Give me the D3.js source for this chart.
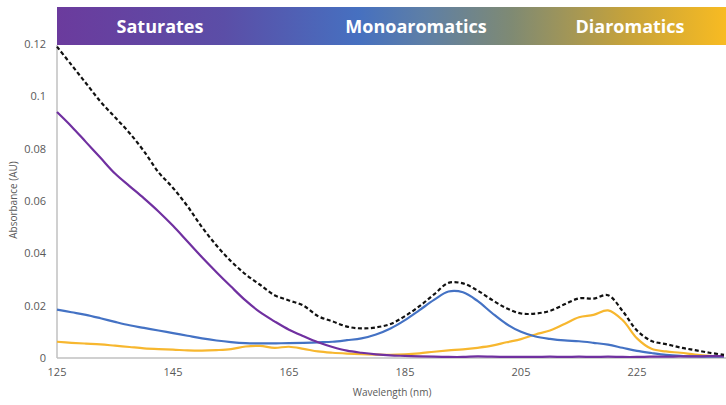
<!DOCTYPE html>
<html>
<head>
<meta charset="utf-8">
<script src="https://cdn.jsdelivr.net/npm/d3@7"></script>
<style>
  body { margin: 0; background: #fff; }
  svg { display: block; font-family: "Open Sans", sans-serif; }
</style>
</head>
<body>
<svg id="chart" width="726" height="405"></svg>
<script>
// wavelength grid (nm)
var wavelengths = [125, 127.5, 130, 132.5, 135, 137.5, 140, 142.5, 145, 147.5, 150, 152.5, 155, 157.5,
  160, 162.5, 165, 167.5, 170, 172.5, 175, 177.5, 180, 182.5, 185, 187.5, 190, 192.5, 195, 197.5,
  200, 202.5, 205, 207.5, 210, 212.5, 215, 217.5, 220, 222.5, 225, 227.5, 230, 232.5, 235, 237.5, 240]

var saturates = [0.094, 0.0885, 0.0825, 0.0765, 0.0705, 0.0657, 0.061, 0.056, 0.0505, 0.0445, 0.0385, 0.0328, 0.0273, 0.022,
  0.0175, 0.014, 0.0108, 0.0083, 0.006, 0.0042, 0.0028, 0.002, 0.0014, 0.001, 0.0008, 0.0006, 0.0005, 0.0004, 0.0004, 0.0006,
  0.0005, 0.0004, 0.0004, 0.0004, 0.0005, 0.0004, 0.0005, 0.0004, 0.0005, 0.0004, 0.0004, 0.0005, 0.0005, 0.0006, 0.0006, 0.0007, 0.0007]

var monoaromatics = [0.0185, 0.0175, 0.0165, 0.0152, 0.0138, 0.0125, 0.0115, 0.0105, 0.0095, 0.0085, 0.0075, 0.0067, 0.0061, 0.0057,
  0.0056, 0.0056, 0.0057, 0.0058, 0.006, 0.0062, 0.0068, 0.0075, 0.009, 0.0113, 0.0145, 0.0183, 0.0222, 0.0254, 0.0251, 0.0218,
  0.0172, 0.013, 0.010, 0.0082, 0.0073, 0.0067, 0.0064, 0.0058, 0.0051, 0.0039, 0.0027, 0.0019, 0.0012, 0.0008, 0.0006, 0.0005, 0.0005]

var diaromatics = [0.0062, 0.0058, 0.0055, 0.0052, 0.0047, 0.0042, 0.0037, 0.0034, 0.0032, 0.0029, 0.0028, 0.003, 0.0034, 0.0044,
  0.0046, 0.0039, 0.0043, 0.0035, 0.0025, 0.002, 0.0017, 0.0015, 0.0013, 0.0012, 0.0014, 0.0018, 0.0024, 0.0029, 0.0033, 0.0039,
  0.0047, 0.006, 0.0072, 0.009, 0.0105, 0.013, 0.0156, 0.0165, 0.0182, 0.0145, 0.0075, 0.0035, 0.0025, 0.002, 0.0013, 0.0008, 0.0006]

var total = [0.119, 0.112, 0.105, 0.098, 0.092, 0.086, 0.079, 0.071, 0.065, 0.058, 0.050, 0.043, 0.037, 0.032,
  0.028, 0.024, 0.022, 0.020, 0.016, 0.014, 0.012, 0.0113, 0.0117, 0.013, 0.016, 0.0198, 0.0243, 0.0287, 0.0285, 0.0258,
  0.0222, 0.019, 0.017, 0.017, 0.018, 0.0205, 0.0228, 0.0227, 0.024, 0.018, 0.0105, 0.0065, 0.0053, 0.004, 0.003, 0.002, 0.0012]

var xTicks = [125, 145, 165, 185, 205, 225]
var yTicks = [0, 0.02, 0.04, 0.06, 0.08, 0.1, 0.12]
var bandNames = ["Saturates", "Monoaromatics", "Diaromatics"]
var bandCenters = [160, 416, 630] // label centers in px

var mLeft = 57, mRight = 726, mTop = 44, mBottom = 358

var svg = d3.select("#chart")

var x = d3.scaleLinear().domain([125, 240]).range([mLeft, mLeft + 115 * 5.8])
var y = d3.scaleLinear().domain([0, 0.12]).range([mBottom, mTop])

// header band with gradient
var defs = svg.append("defs")
var grad = defs.append("linearGradient").attr("id", "band").attr("x1", "0%").attr("x2", "100%")
var stops = [[0, "#6b3b9d"], [0.25, "#5b4ea7"], [0.45, "#4670c0"], [0.55, "#5e7fa6"], [0.68, "#7f8a73"],
  [0.85, "#c5a23b"], [1, "#f8bb22"]]
grad.selectAll("stop").data(stops).enter().append("stop")
  .attr("offset", (d) => d[0])
  .attr("stop-color", (d) => d[1])

svg.append("rect")
  .attr("x", mLeft).attr("y", 7)
  .attr("width", mRight - mLeft).attr("height", 38)
  .attr("fill", "url(#band)")

svg.selectAll(".band-label")
  .data(bandNames)
  .enter().append("text")
  .attr("class", "band-label")
  .attr("x", (d, i) => bandCenters[i])
  .attr("y", 33)
  .attr("text-anchor", "middle")
  .attr("fill", "#fff")
  .attr("font-size", "18px")
  .attr("font-weight", "bold")
  .text((d) => d)

// axes
svg.append("line").attr("x1", mLeft).attr("x2", mLeft).attr("y1", 45).attr("y2", mBottom)
  .attr("stroke", "#c0c0c0").attr("stroke-width", 1.5)
svg.append("line").attr("x1", mLeft).attr("x2", mRight).attr("y1", mBottom).attr("y2", mBottom)
  .attr("stroke", "#c0c0c0").attr("stroke-width", 1.5)

svg.selectAll(".ytick")
  .data(yTicks)
  .enter().append("text")
  .attr("class", "ytick")
  .attr("x", 46)
  .attr("y", (d) => y(d) + 4)
  .attr("text-anchor", "end")
  .attr("font-size", "11px")
  .attr("fill", "#595959")
  .text((d) => String(+d.toFixed(2)))

svg.selectAll(".xtick")
  .data(xTicks)
  .enter().append("text")
  .attr("class", "xtick")
  .attr("x", (d) => x(d))
  .attr("y", 376)
  .attr("text-anchor", "middle")
  .attr("font-size", "11px")
  .attr("fill", "#595959")
  .text((d) => d)

svg.append("text")
  .attr("x", 392).attr("y", 396)
  .attr("text-anchor", "middle")
  .attr("font-size", "10px")
  .attr("fill", "#595959")
  .text("Wavelength (nm)")

svg.append("text")
  .attr("transform", "translate(17,200) rotate(-90)")
  .attr("text-anchor", "middle")
  .attr("font-size", "10px")
  .attr("fill", "#595959")
  .text("Absorbance (AU)")

// lines
var line = d3.line()
  .x((d, i) => x(wavelengths[i]))
  .y((d) => y(d))
  .curve(d3.curveCatmullRom.alpha(0.5))

var plot = svg.append("g")

var series = [
  { values: diaromatics, color: "#f7b72f", dash: null },
  { values: monoaromatics, color: "#4472c4", dash: null },
  { values: saturates, color: "#7030a0", dash: null },
  { values: total, color: "#111", dash: "4,2.5" }
]

plot.selectAll("path")
  .data(series)
  .enter().append("path")
  .attr("d", (d) => line(d.values))
  .attr("fill", "none")
  .attr("stroke", (d) => d.color)
  .attr("stroke-width", 2.2)
  .attr("stroke-dasharray", (d) => d.dash)
</script>
</body>
</html>
